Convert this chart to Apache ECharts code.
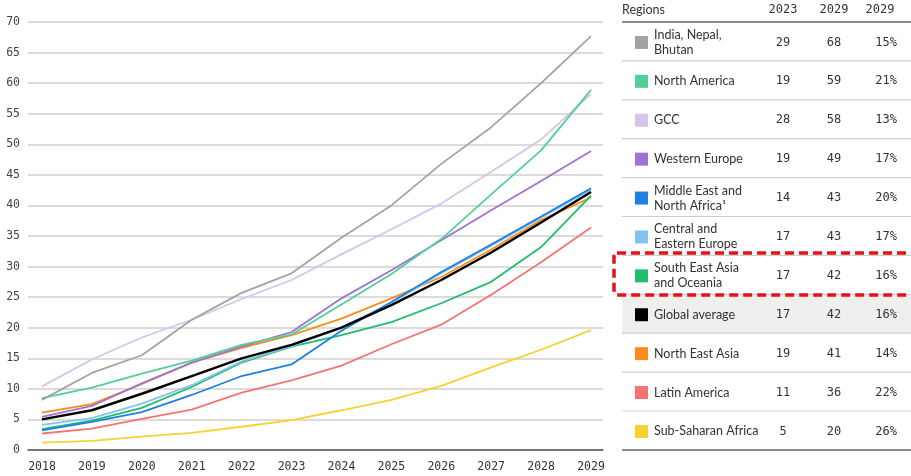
<!DOCTYPE html>
<html>
<head>
<meta charset="utf-8">
<script src="https://cdn.jsdelivr.net/npm/echarts@6/dist/echarts.min.js"></script>
<style>
html,body{margin:0;padding:0;background:#fff;}
#chart{width:911px;height:476px;}
</style>
</head>
<body>
<div id="chart"></div>
<script>
// ---- data ----
const years = [2018, 2019, 2020, 2021, 2022, 2023, 2024, 2025, 2026, 2027, 2028, 2029];
const yTicks = [0, 5, 10, 15, 20, 25, 30, 35, 40, 45, 50, 55, 60, 65, 70];

const indiaNepalBhutan = [8.2, 12.6, 15.5, 21.3, 25.7, 28.9, 34.7, 40.0, 46.8, 52.8, 60.0, 67.7];
const northAmerica     = [8.5, 10.2, 12.5, 14.6, 17.2, 18.9, 23.8, 28.8, 34.5, 41.8, 49.0, 58.9];
const gcc              = [10.4, 14.8, 18.4, 21.3, 24.7, 27.8, 32.0, 36.1, 40.3, 45.5, 50.8, 58.2];
const westernEurope    = [5.4, 7.2, 10.9, 14.3, 16.9, 19.3, 24.8, 29.4, 34.3, 39.2, 44.0, 48.9];
const middleEastNA     = [3.2, 4.6, 6.2, 9.0, 12.1, 14.0, 19.5, 24.2, 29.1, 33.6, 38.2, 42.8];
const centralEastEU    = [4.1, 5.2, 7.6, 10.6, 14.5, 17.0, 20.0, 24.1, 28.9, 33.4, 38.0, 42.6];
const southEastAsia    = [3.4, 4.8, 6.9, 10.3, 14.3, 16.9, 18.8, 20.9, 24.0, 27.5, 33.2, 41.6];
const globalAverage    = [5.0, 6.5, 9.2, 12.1, 15.0, 17.2, 20.0, 23.7, 27.8, 32.3, 37.2, 42.2];
const northEastAsia    = [6.1, 7.5, 10.8, 14.3, 16.7, 18.8, 21.5, 24.8, 28.3, 32.8, 37.6, 41.3];
const latinAmerica     = [2.7, 3.5, 5.1, 6.6, 9.4, 11.4, 13.8, 17.3, 20.5, 25.4, 30.7, 36.4];
const subSaharanAfrica = [1.2, 1.5, 2.2, 2.8, 3.8, 4.9, 6.5, 8.2, 10.5, 13.5, 16.4, 19.6];

// table
const tableRegions = ['India, Nepal,\nBhutan', 'North America', 'GCC', 'Western Europe',
  'Middle East and\nNorth Africa\u00B9', 'Central and\nEastern Europe', 'South East Asia\nand Oceania',
  'Global average', 'North East Asia', 'Latin America', 'Sub-Saharan Africa'];
const table2023 = ['29', '19', '28', '19', '14', '17', '17', '17', '19', '11', '5'];
const table2029 = ['68', '59', '58', '49', '43', '43', '42', '42', '41', '36', '20'];
const tableCagr = ['15%', '21%', '13%', '17%', '20%', '17%', '16%', '16%', '14%', '22%', '26%'];
const tableHeaders = ['Regions', '2023', '2029', '2023-\n2029'];

// ---- styles ----
const colors = ['#a3a3a3', '#52cf99', '#d8c3ea', '#a072d2', '#1c80e6', '#84c2f2', '#21bd6c', '#000000', '#f98c1a', '#f47472', '#f6d233'];
const seriesValues = [indiaNepalBhutan, northAmerica, gcc, westernEurope, middleEastNA, centralEastEU,
  southEastAsia, globalAverage, northEastAsia, latinAmerica, subSaharanAfrica];
const seriesNames = tableRegions.map(s => s.replace('\n', ' '));
// draw order (bottom -> top)
const drawOrder = [10, 9, 8, 6, 5, 4, 3, 2, 1, 0, 7];

const series = drawOrder.map(i => ({
  name: seriesNames[i],
  type: 'line',
  data: years.map((y, k) => [y, seriesValues[i][k]]),
  symbol: 'none',
  smooth: false,
  lineStyle: { color: colors[i], width: i === 7 ? 2.4 : 1.8 },
  itemStyle: { color: colors[i] },
  z: 2,
  animation: false
}));

// ---- table graphic ----
const tX = 622, tRight = 911, tTop = 22, rowH = 38.9;
const numFont = '12px "DejaVu Sans Mono"';
const txtFont = '12.5px Lato';
const g = [];
// global average row background
g.push({ type: 'rect', shape: { x: tX, y: tTop + rowH * 7 + 1, width: tRight - tX, height: rowH - 1 }, style: { fill: '#efefef' }, z: 0 });
// header
g.push({ type: 'text', x: tX, y: 10, style: { text: tableHeaders[0], font: txtFont, fill: '#333', textAlign: 'left', textVerticalAlign: 'middle' }, z: 5 });
g.push({ type: 'text', x: 783, y: 10, style: { text: tableHeaders[1], font: numFont, fill: '#333', textAlign: 'center', textVerticalAlign: 'middle' }, z: 5 });
g.push({ type: 'text', x: 834, y: 10, style: { text: tableHeaders[2], font: numFont, fill: '#333', textAlign: 'center', textVerticalAlign: 'middle' }, z: 5 });
g.push({ type: 'text', x: 880, y: 3, style: { text: tableHeaders[3], font: numFont, fill: '#333', textAlign: 'center', textVerticalAlign: 'middle', lineHeight: 13 }, z: 5 });
g.push({ type: 'line', shape: { x1: tX, y1: tTop, x2: tRight, y2: tTop }, style: { stroke: '#666', lineWidth: 1.5 }, z: 5 });
tableRegions.forEach((name, i) => {
  const cy = tTop + rowH * (i + 0.5) + 1;
  g.push({ type: 'rect', shape: { x: 635, y: cy - 6.5, width: 13, height: 13 }, style: { fill: colors[i] }, z: 5 });
  g.push({ type: 'text', x: 654, y: cy, style: { text: name, font: txtFont, fill: '#333', textAlign: 'left', textVerticalAlign: 'middle', lineHeight: 15 }, z: 5 });
  g.push({ type: 'text', x: 783, y: cy, style: { text: table2023[i], font: numFont, fill: '#333', textAlign: 'center', textVerticalAlign: 'middle' }, z: 5 });
  g.push({ type: 'text', x: 834, y: cy, style: { text: table2029[i], font: numFont, fill: '#333', textAlign: 'center', textVerticalAlign: 'middle' }, z: 5 });
  g.push({ type: 'text', x: 897, y: cy, style: { text: tableCagr[i], font: numFont, fill: '#333', textAlign: 'right', textVerticalAlign: 'middle' }, z: 5 });
  const ly = tTop + rowH * (i + 1);
  const last = i === tableRegions.length - 1;
  g.push({ type: 'line', shape: { x1: tX, y1: ly, x2: tRight, y2: ly }, style: { stroke: last ? '#666' : '#cfcfcf', lineWidth: last ? 1.5 : 1.2 }, z: 5 });
});
// red dashed highlight box
g.push({ type: 'rect', shape: { x: 614, y: 253, width: 310, height: 42, r: 3 }, style: { fill: 'none', stroke: '#e8101a', lineWidth: 3.5, lineDash: [9, 5] }, z: 10 });

const chart = echarts.init(document.getElementById('chart'));
chart.setOption({
  animation: false,
  backgroundColor: '#fff',
  grid: { left: 28, right: 308, top: 22, bottom: 26, containLabel: false },
  xAxis: {
    type: 'value',
    min: 2017.72,
    max: 2029.24,
    axisLine: { show: true, onZero: false, lineStyle: { color: '#555', width: 1.5 } },
    axisTick: { show: false },
    splitLine: { show: false },
    axisLabel: {
      customValues: years,
      color: '#333',
      fontFamily: 'DejaVu Sans Mono',
      fontSize: 11.5,
      margin: 11,
      formatter: v => String(v)
    }
  },
  yAxis: {
    type: 'value',
    min: yTicks[0],
    max: yTicks[yTicks.length - 1],
    interval: 5,
    axisLine: { show: false },
    axisTick: { show: false },
    splitLine: { show: true, lineStyle: { color: '#cfcfcf', width: 1.5 } },
    axisLabel: { color: '#444', fontFamily: 'DejaVu Sans Mono', fontSize: 11.5, margin: 8 }
  },
  series: series,
  graphic: g
});
</script>
</body>
</html>
